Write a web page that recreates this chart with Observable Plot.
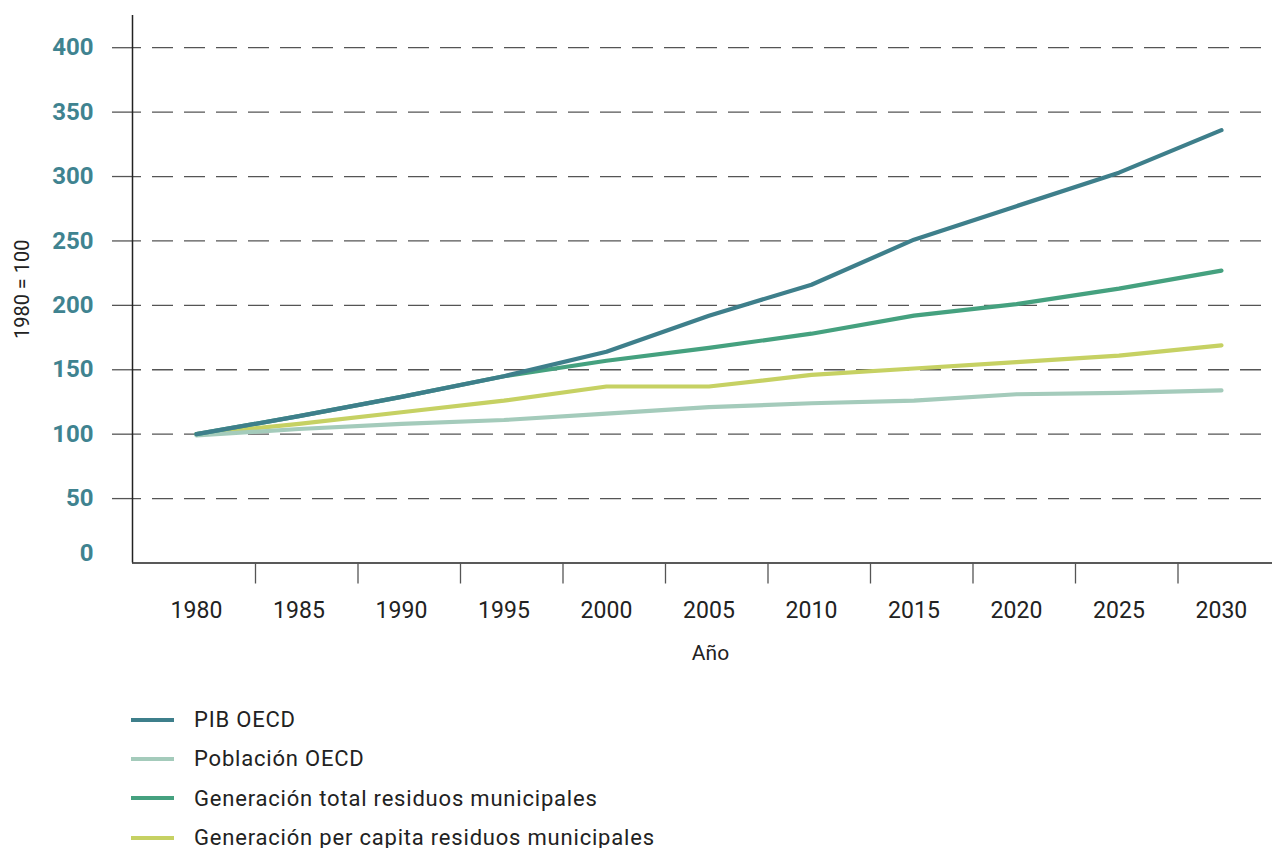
<!DOCTYPE html>
<html>
<head>
<meta charset="utf-8">
<script src="https://cdn.jsdelivr.net/npm/d3@7"></script>
<script src="https://cdn.jsdelivr.net/npm/@observablehq/plot@0.6"></script>
<style>
  html, body { margin: 0; padding: 0; background: #fff; }
  body { width: 1272px; height: 848px; overflow: hidden; font-family: Roboto, "Noto Sans", sans-serif; }
  #legend { margin-top: 20px; }
  .row { display: flex; align-items: center; height: 39.3px; }
  .sw { width: 43px; height: 4px; margin-left: 131px; margin-right: 20px; }
  .lab { font-size: 22px; color: #222; letter-spacing: 0.8px; }
</style>
</head>
<body>
<div id="chart"></div>
<div id="legend"></div>
<script>
// Data (index 1980 = 100)
const years = [1980, 1985, 1990, 1995, 2000, 2005, 2010, 2015, 2020, 2025, 2030];
const pibOECD = [100, 114, 129, 145, 164, 192, 216, 251, 277, 303, 336];
const poblacionOECD = [99, 104, 108, 111, 116, 121, 124, 126, 131, 132, 134];
const generacionTotal = [100, 114, 129, 145, 157, 167, 178, 192, 201, 213, 227];
const generacionPerCapita = [100, 108, 117, 126, 137, 137, 146, 151, 156, 161, 169];
const yTicks = [50, 100, 150, 200, 250, 300, 350, 400];

const seriesNames = ["PIB OECD", "Población OECD", "Generación total residuos municipales", "Generación per capita residuos municipales"];
const seriesColors = ["#3e7f8b", "#a4cbbb", "#45a17f", "#c6d163"];
const seriesValues = [pibOECD, poblacionOECD, generacionTotal, generacionPerCapita];

// layout helpers (style only)
const xDomain = [1976.88, 2032.49];
const tickOffset = 2.88; // separator ticks sit between labelled years
const separators = years.slice(0, -1).map(y => y + tickOffset);
const teal = "#3f8390";
const drawOrder = [3, 1, 2, 0];

const chart = Plot.plot({
  width: 1272,
  height: 680,
  marginLeft: 132,
  marginRight: 0,
  marginTop: 15,
  marginBottom: 117.5,
  style: { fontFamily: "Roboto, 'Noto Sans', sans-serif", background: "#fff", color: "#222", overflow: "visible" },
  x: { domain: xDomain },
  y: { domain: [0, 425] },
  marks: [
    Plot.ruleY(yTicks, { stroke: "#555", strokeWidth: 1.3, strokeDasharray: "21,11", strokeDashoffset: -20, insetRight: 7 }),
    Plot.axisY(yTicks, { tickSize: 20, tickFormat: () => "", label: null, stroke: "#555", strokeWidth: 1.3 }),
    Plot.text(yTicks, { y: d => d, text: d => String(d), frameAnchor: "left", dx: -39, textAnchor: "end", fill: teal, fontSize: 24, fontWeight: "bold" }),
    Plot.text([0], { y: d => d, text: d => String(d), frameAnchor: "left", dx: -39, dy: -10, textAnchor: "end", fill: teal, fontSize: 24, fontWeight: "bold" }),
    Plot.ruleX([xDomain[0]], { stroke: "#222", strokeWidth: 1.5 }),
    Plot.ruleY([0], { stroke: "#222", strokeWidth: 1.5 }),
    Plot.axisX(separators, { tickSize: 21, tickFormat: () => "", label: null, stroke: "#555", strokeWidth: 1.3 }),
    Plot.axisX(years, { tickSize: 0, tickPadding: 39, tickFormat: d => String(d), label: null, fontSize: 23, fill: "#222", letterSpacing: "0.5px" }),
    ...drawOrder.map(i => Plot.lineY(seriesValues[i], { x: years, stroke: seriesColors[i], strokeWidth: 4.2 })),
    Plot.text(["1980 = 100"], { frameAnchor: "left", rotate: -90, textAnchor: "middle", dx: -110, fontSize: 20, fill: "#222" }),
    Plot.text(["Año"], { frameAnchor: "bottom", dy: 97, dx: 8, fontSize: 21, fill: "#222", letterSpacing: "0.5px" })
  ]
});
document.getElementById("chart").appendChild(chart);

const legend = d3.select("#legend");
seriesNames.forEach((name, i) => {
  const row = legend.append("div").attr("class", "row");
  row.append("div").attr("class", "sw").style("background", seriesColors[i]);
  row.append("div").attr("class", "lab").text(name);
});
</script>
</body>
</html>
